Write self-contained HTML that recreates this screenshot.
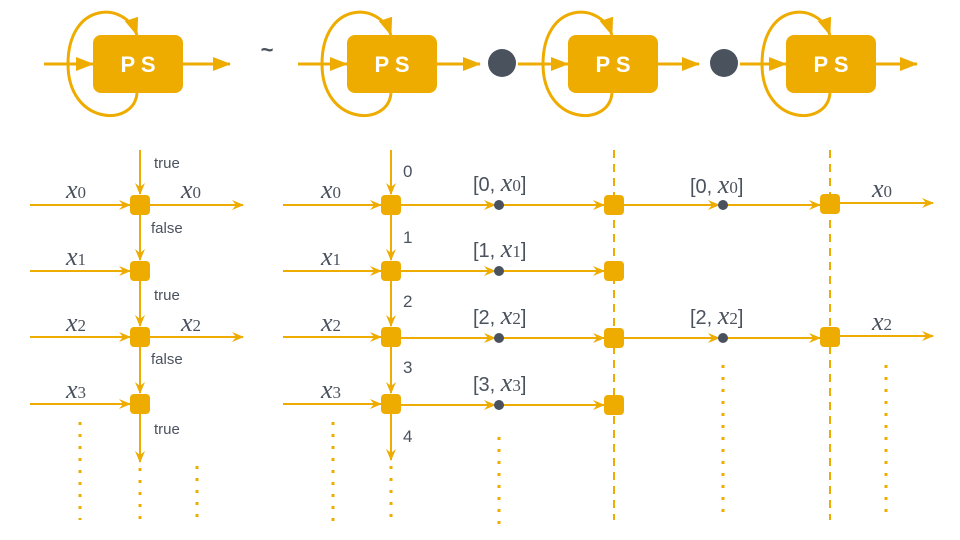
<!DOCTYPE html>
<html><head><meta charset="utf-8"><style>
html,body{margin:0;padding:0;background:#fff}
svg{display:block}
.t{font-family:"Liberation Sans",sans-serif;fill:#4a525e}
.m{font-family:"Liberation Serif",serif;font-style:italic;fill:#4a525e}
.s{font-family:"Liberation Serif",serif;fill:#4a525e}
</style></head><body>
<svg width="960" height="540" viewBox="0 0 960 540" xmlns="http://www.w3.org/2000/svg">
<defs>
<marker id="a" markerWidth="12" markerHeight="10" refX="11" refY="5" orient="auto" markerUnits="userSpaceOnUse">
<path d="M0,0 L12,5 L0,10 L4,5 Z" fill="#EEAC00"/></marker>
<marker id="b" markerWidth="18" markerHeight="14" refX="17" refY="7" orient="auto" markerUnits="userSpaceOnUse">
<path d="M0,0 L18,7 L0,14 Z" fill="#EEAC00"/></marker>
</defs>
<g stroke="#EEAC00" stroke-width="3" fill="none">
<path d="M44 64 H93" marker-end="url(#b)"/>
<path d="M183 64 H230" marker-end="url(#b)"/>
<path d="M137 93 C134 128, 68 125, 68 64 C68 2, 125 0, 137 35" marker-end="url(#b)"/>
<path d="M298 64 H347" marker-end="url(#b)"/>
<path d="M437 64 H480" marker-end="url(#b)"/>
<path d="M391 93 C388 128, 322 125, 322 64 C322 2, 379 0, 391 35" marker-end="url(#b)"/>
<path d="M518 64 H568" marker-end="url(#b)"/>
<path d="M658 64 H699" marker-end="url(#b)"/>
<path d="M612 93 C609 128, 543 125, 543 64 C543 2, 600 0, 612 35" marker-end="url(#b)"/>
<path d="M740 64 H786" marker-end="url(#b)"/>
<path d="M876 64 H917" marker-end="url(#b)"/>
<path d="M830 93 C827 128, 762 125, 762 64 C762 2, 818 0, 830 35" marker-end="url(#b)"/>
</g>
<g fill="#EEAC00">
<rect x="93" y="35" width="90" height="58" rx="8"/>
<rect x="347" y="35" width="90" height="58" rx="8"/>
<rect x="568" y="35" width="90" height="58" rx="8"/>
<rect x="786" y="35" width="90" height="58" rx="8"/>
</g>
<g fill="#fff" font-family="Liberation Sans,sans-serif" font-weight="bold" font-size="22" text-anchor="middle">
<text x="138" y="72">P S</text><text x="392" y="72">P S</text><text x="613" y="72">P S</text><text x="831" y="72">P S</text>
</g>
<text x="267" y="57" class="t" font-size="22" font-weight="bold" text-anchor="middle">~</text>
<circle cx="502" cy="63" r="14" fill="#4a525e"/>
<circle cx="724" cy="63" r="14" fill="#4a525e"/>

<g stroke="#EEAC00" stroke-width="2" fill="none">
<path d="M140 150 V194" marker-end="url(#a)"/>
<path d="M140 215 V260" marker-end="url(#a)"/>
<path d="M140 281 V326" marker-end="url(#a)"/>
<path d="M140 347 V393" marker-end="url(#a)"/>
<path d="M140 414 V462" marker-end="url(#a)"/>
<path d="M30 205 H130" marker-end="url(#a)"/>
<path d="M30 271 H130" marker-end="url(#a)"/>
<path d="M30 337 H130" marker-end="url(#a)"/>
<path d="M30 404 H130" marker-end="url(#a)"/>
<path d="M150 205 H243" marker-end="url(#a)"/>
<path d="M150 337 H243" marker-end="url(#a)"/>
<path d="M391 150 V194" marker-end="url(#a)"/>
<path d="M391 215 V260" marker-end="url(#a)"/>
<path d="M391 281 V326" marker-end="url(#a)"/>
<path d="M391 347 V393" marker-end="url(#a)"/>
<path d="M391 414 V460" marker-end="url(#a)"/>
<path d="M283 205 H381" marker-end="url(#a)"/>
<path d="M283 271 H381" marker-end="url(#a)"/>
<path d="M283 337 H381" marker-end="url(#a)"/>
<path d="M283 404 H381" marker-end="url(#a)"/>
<path d="M401 205 H495" marker-end="url(#a)"/>
<path d="M401 271 H495" marker-end="url(#a)"/>
<path d="M401 338 H495" marker-end="url(#a)"/>
<path d="M401 405 H495" marker-end="url(#a)"/>
<path d="M500 205 H604" marker-end="url(#a)"/>
<path d="M500 271 H604" marker-end="url(#a)"/>
<path d="M500 338 H604" marker-end="url(#a)"/>
<path d="M500 405 H604" marker-end="url(#a)"/>
<path d="M624 205 H719" marker-end="url(#a)"/>
<path d="M624 338 H719" marker-end="url(#a)"/>
<path d="M724 205 H820" marker-end="url(#a)"/>
<path d="M724 338 H820" marker-end="url(#a)"/>
<path d="M840 203 H933" marker-end="url(#a)"/>
<path d="M840 336 H933" marker-end="url(#a)"/>
<path d="M614 150 V520" stroke-dasharray="8,6"/>
<path d="M830 150 V520" stroke-dasharray="8,6"/>
</g>
<g stroke="#EEAC00" stroke-width="3" fill="none" stroke-dasharray="3,9">
<path d="M80 422 V520"/><path d="M140 468 V520"/><path d="M197 466 V520"/>
<path d="M333 422 V522"/><path d="M391 466 V520"/><path d="M499 437 V525"/>
<path d="M723 365 V515"/><path d="M886 365 V515"/>
</g>
<g fill="#EEAC00">
<rect x="130" y="195" width="20" height="20" rx="4"/><rect x="130" y="261" width="20" height="20" rx="4"/>
<rect x="130" y="327" width="20" height="20" rx="4"/><rect x="130" y="394" width="20" height="20" rx="4"/>
<rect x="381" y="195" width="20" height="20" rx="4"/><rect x="381" y="261" width="20" height="20" rx="4"/>
<rect x="381" y="327" width="20" height="20" rx="4"/><rect x="381" y="394" width="20" height="20" rx="4"/>
<rect x="604" y="195" width="20" height="20" rx="4"/><rect x="604" y="261" width="20" height="20" rx="4"/>
<rect x="604" y="328" width="20" height="20" rx="4"/><rect x="604" y="395" width="20" height="20" rx="4"/>
<rect x="820" y="194" width="20" height="20" rx="4"/><rect x="820" y="327" width="20" height="20" rx="4"/>
</g>
<g fill="#4a525e">
<circle cx="499" cy="205" r="5"/><circle cx="499" cy="271" r="5"/><circle cx="499" cy="338" r="5"/><circle cx="499" cy="405" r="5"/>
<circle cx="723" cy="205" r="5"/><circle cx="723" cy="338" r="5"/>
</g>
<g class="t" font-size="15">
<text x="154" y="168">true</text><text x="151" y="233">false</text><text x="154" y="300">true</text>
<text x="151" y="364">false</text><text x="154" y="434">true</text>
</g>
<g class="t" font-size="17">
<text x="403" y="177">0</text><text x="403" y="243">1</text><text x="403" y="307">2</text>
<text x="403" y="373">3</text><text x="403" y="442">4</text>
</g>
<g font-size="26">
<text x="66" y="198" class="m">x<tspan class="s" font-style="normal" font-size="17">0</tspan></text>
<text x="66" y="265" class="m">x<tspan class="s" font-style="normal" font-size="17">1</tspan></text>
<text x="66" y="331" class="m">x<tspan class="s" font-style="normal" font-size="17">2</tspan></text>
<text x="66" y="398" class="m">x<tspan class="s" font-style="normal" font-size="17">3</tspan></text>
<text x="181" y="198" class="m">x<tspan class="s" font-style="normal" font-size="17">0</tspan></text>
<text x="181" y="331" class="m">x<tspan class="s" font-style="normal" font-size="17">2</tspan></text>
<text x="321" y="198" class="m">x<tspan class="s" font-style="normal" font-size="17">0</tspan></text>
<text x="321" y="265" class="m">x<tspan class="s" font-style="normal" font-size="17">1</tspan></text>
<text x="321" y="331" class="m">x<tspan class="s" font-style="normal" font-size="17">2</tspan></text>
<text x="321" y="398" class="m">x<tspan class="s" font-style="normal" font-size="17">3</tspan></text>
<text x="872" y="197" class="m">x<tspan class="s" font-style="normal" font-size="17">0</tspan></text>
<text x="872" y="330" class="m">x<tspan class="s" font-style="normal" font-size="17">2</tspan></text>
</g>
<g font-size="20" class="t">
<text x="473" y="191">[0, <tspan class="m" font-size="26">x</tspan><tspan class="s" font-size="17">0</tspan>]</text>
<text x="473" y="257">[1, <tspan class="m" font-size="26">x</tspan><tspan class="s" font-size="17">1</tspan>]</text>
<text x="473" y="324">[2, <tspan class="m" font-size="26">x</tspan><tspan class="s" font-size="17">2</tspan>]</text>
<text x="473" y="391">[3, <tspan class="m" font-size="26">x</tspan><tspan class="s" font-size="17">3</tspan>]</text>
<text x="690" y="193">[0, <tspan class="m" font-size="26">x</tspan><tspan class="s" font-size="17">0</tspan>]</text>
<text x="690" y="324">[2, <tspan class="m" font-size="26">x</tspan><tspan class="s" font-size="17">2</tspan>]</text>
</g>
</svg>
</body></html>
